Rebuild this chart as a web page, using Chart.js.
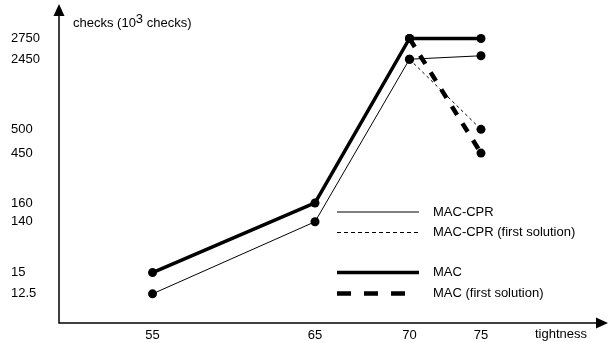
<!DOCTYPE html>
<html>
<head>
<meta charset="utf-8">
<script src="https://cdn.jsdelivr.net/npm/chart.js@4"></script>
<style>
  html, body { margin: 0; padding: 0; background: #fff; }
</style>
</head>
<body>
<canvas id="chart" width="609" height="343"></canvas>
<script>
// data
const tightness = [55, 65, 70, 75];
const macCpr = [12.5, 140, 2450, 2500];
const mac = [15, 160, 2750, 2750];
const firstTightness = [70, 75];
const macCprFirst = [2450, 500];
const macFirst = [2750, 450];
const xTicks = [55, 65, 70, 75];
const yTicks = [12.5, 15, 140, 160, 450, 500, 2450, 2750];

// the original axes are schematic (not linear): where each value sits along the axis, 0..1
const anchors = {
  x: [[50, 0], [55, 0.1719], [65, 0.4706], [70, 0.6443], [75, 0.7757], [80, 1]],
  y: [[0, 0], [12.5, 0.0937], [15, 0.1619], [140, 0.3254], [160, 0.3857],
      [450, 0.546], [500, 0.6222], [2450, 0.8476], [2750, 0.9143], [3000, 1]]
};
const tickValues = { x: xTicks, y: yTicks };

// piecewise linear scale through the anchors
class AnchoredScale extends Chart.LinearScale {
  buildTicks() {
    return tickValues[this.id].map(v => ({ value: v }));
  }
  getPixelForValue(value) {
    const a = anchors[this.id];
    let i = 1;
    while (i < a.length - 1 && value > a[i][0]) i++;
    const [v0, f0] = a[i - 1];
    const [v1, f1] = a[i];
    return this.getPixelForDecimal(f0 + (value - v0) / (v1 - v0) * (f1 - f0));
  }
  getValueForPixel(pixel) {
    const a = anchors[this.id];
    const f = this.getDecimalForPixel(pixel);
    let i = 1;
    while (i < a.length - 1 && f > a[i][1]) i++;
    const [v0, f0] = a[i - 1];
    const [v1, f1] = a[i];
    return v0 + (f - f0) / (f1 - f0) * (v1 - v0);
  }
}
AnchoredScale.id = 'anchored';
AnchoredScale.defaults = {};
Chart.register(AnchoredScale);

const FONT = '"Liberation Sans", Arial, sans-serif';
Chart.defaults.font.family = FONT;
Chart.defaults.font.size = 13;
Chart.defaults.color = '#000';

const toPoints = (xs, ys) => xs.map((x, i) => ({ x: x, y: ys[i] }));

const baseStyle = {
  borderColor: '#000',
  backgroundColor: '#000',
  pointBackgroundColor: '#000',
  pointBorderWidth: 0,
  pointRadius: 4.5,
  tension: 0,
  fill: false
};

const datasets = [
  Object.assign({}, baseStyle, { label: 'MAC-CPR', data: toPoints(tightness, macCpr), borderWidth: 1, legendDash: [], legendLen: 82 }),
  Object.assign({}, baseStyle, { label: 'MAC-CPR (first solution)', data: toPoints(firstTightness, macCprFirst), borderWidth: 1, borderDash: [3, 3], legendDash: [4, 3], legendLen: 82 }),
  Object.assign({}, baseStyle, { label: 'MAC', data: toPoints(tightness, mac), borderWidth: 3.5, legendDash: [], legendLen: 82 }),
  Object.assign({}, baseStyle, { label: 'MAC (first solution)', data: toPoints(firstTightness, macFirst), borderWidth: 4.5, borderDash: [10, 10], legendDash: [14, 13], legendLen: 68 })
];

// axes with arrows, axis titles and the legend box
const decorations = {
  id: 'decorations',
  afterDraw(chart) {
    const { ctx, chartArea: a } = chart;
    ctx.save();
    ctx.strokeStyle = '#000';
    ctx.fillStyle = '#000';
    ctx.lineWidth = 1.5;
    ctx.setLineDash([]);
    ctx.beginPath();
    ctx.moveTo(a.left, 12);
    ctx.lineTo(a.left, a.bottom);
    ctx.lineTo(600, a.bottom);
    ctx.stroke();

    ctx.beginPath();
    ctx.moveTo(a.left, 4);
    ctx.lineTo(a.left - 5.5, 16);
    ctx.lineTo(a.left + 5.5, 16);
    ctx.closePath();
    ctx.fill();
    ctx.beginPath();
    ctx.moveTo(608, a.bottom);
    ctx.lineTo(596, a.bottom - 5.5);
    ctx.lineTo(596, a.bottom + 5.5);
    ctx.closePath();
    ctx.fill();

    ctx.font = '13px ' + FONT;
    ctx.textAlign = 'left';
    ctx.textBaseline = 'alphabetic';
    let x = 73;
    ctx.fillText('checks (10', x, 27);
    x += ctx.measureText('checks (10').width;
    ctx.fillText('3', x, 23);
    x += ctx.measureText('3').width;
    ctx.fillText(' checks)', x, 27);
    ctx.fillText('tightness', 535, 338);

    // legend
    const rows = [212, 232.5, 272.5, 293.5];
    ctx.textBaseline = 'middle';
    chart.data.datasets.forEach((ds, i) => {
      const y = rows[i];
      ctx.lineWidth = ds.borderWidth;
      ctx.setLineDash(ds.legendDash);
      ctx.beginPath();
      ctx.moveTo(337, y);
      ctx.lineTo(337 + ds.legendLen, y);
      ctx.stroke();
      ctx.setLineDash([]);
      ctx.fillText(ds.label, 433, y);
    });
    ctx.restore();
  }
};

new Chart(document.getElementById('chart'), {
  type: 'line',
  data: { datasets: datasets },
  options: {
    responsive: false,
    animation: false,
    layout: { padding: { left: 11, top: 8, right: 6, bottom: 0 } },
    plugins: {
      legend: { display: false },
      tooltip: { enabled: false }
    },
    scales: {
      x: {
        type: 'anchored',
        position: 'bottom',
        min: 50,
        max: 80,
        grid: { display: false, drawTicks: false },
        border: { display: false },
        ticks: { autoSkip: false, maxRotation: 0, padding: 5, callback: v => String(v) },
        afterFit: s => { s.height = 20; }
      },
      y: {
        type: 'anchored',
        position: 'left',
        min: 0,
        max: 3000,
        grid: { display: false, drawTicks: false },
        border: { display: false },
        ticks: { autoSkip: false, crossAlign: 'far', padding: 4, callback: v => String(v) },
        afterFit: s => { s.width = 48; }
      }
    }
  },
  plugins: [decorations]
});
</script>
</body>
</html>
